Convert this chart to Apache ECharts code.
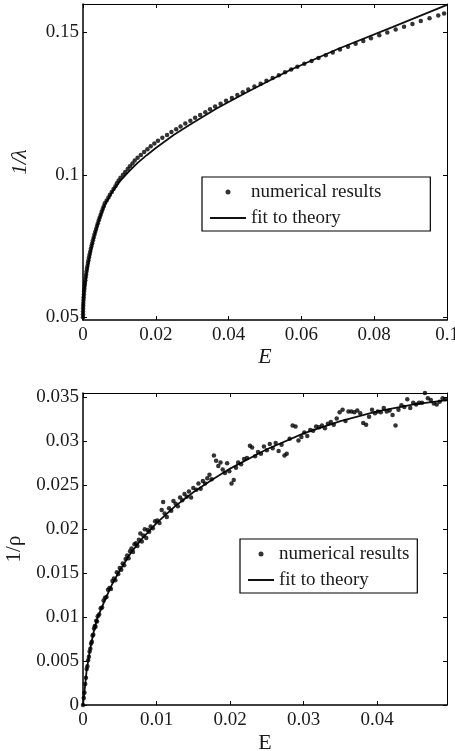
<!DOCTYPE html>
<html><head><meta charset="utf-8">
<script src="https://cdn.jsdelivr.net/npm/echarts@6/dist/echarts.min.js"></script>
<style>html,body{margin:0;padding:0;background:#fff}#c{width:455px;height:751px}</style>
</head><body><div id="c"></div>
<script>
// ---- data ----
const seriesNames = ['numerical results', 'fit to theory'];
const topXTicks = [0, 0.02, 0.04, 0.06, 0.08, 0.1];
const topYTicks = [0.05, 0.1, 0.15];
const botXTicks = [0, 0.01, 0.02, 0.03, 0.04];
const botYTicks = [0, 0.005, 0.01, 0.015, 0.02, 0.025, 0.03, 0.035];

// top panel: numerical results [E, 1/lambda]
const topDots = [[0,0.050],[0.000004,0.051],[0.000015,0.052],[0.000034,0.053],[0.00006,0.054],[0.000094,0.055],[0.000135,0.056],[0.000184,0.057],[0.00024,0.058],[0.000304,0.059],[0.000375,0.060],[0.000454,0.061],[0.00054,0.062],[0.000634,0.063],[0.000735,0.064],[0.000844,0.065],[0.00096,0.066],[0.001084,0.067],[0.001215,0.068],[0.001354,0.069],[0.0015,0.070],[0.001654,0.071],[0.001815,0.072],[0.001984,0.073],[0.00216,0.074],[0.002344,0.075],[0.002535,0.076],[0.002734,0.077],[0.00294,0.078],[0.003154,0.079],[0.003375,0.080],[0.003604,0.081],[0.00384,0.082],[0.004084,0.083],[0.004335,0.084],[0.004594,0.085],[0.00486,0.086],[0.005134,0.087],[0.005415,0.088],[0.005704,0.089],[0.006,0.090],
[0.0065,0.091],[0.0070,0.092],[0.0074,0.093],[0.0079,0.094],[0.0084,0.095],[0.0089,0.096],[0.0093,0.097],[0.0098,0.098],[0.0103,0.099],[0.0110,0.100],[0.0116,0.101],[0.0123,0.102],[0.0129,0.103],[0.0136,0.104],[0.0142,0.105],[0.0150,0.106],[0.0159,0.107],[0.0168,0.108],[0.0177,0.109],[0.0186,0.110],[0.0196,0.111],[0.0206,0.112],[0.0218,0.113],[0.0231,0.114],[0.0243,0.115],[0.0256,0.116],[0.0268,0.117],[0.0281,0.118],[0.0295,0.119],[0.0308,0.120],[0.0322,0.121],[0.0336,0.122],[0.0349,0.123],[0.0363,0.124],[0.0378,0.125],[0.0393,0.126],[0.0409,0.127],[0.0424,0.128],[0.0439,0.129],[0.0454,0.130],[0.0471,0.131],[0.0488,0.132],[0.0504,0.133],[0.0521,0.134],[0.0538,0.135],[0.0555,0.136],[0.0572,0.137],[0.0589,0.138],[0.0608,0.139],[0.0628,0.140],[0.0647,0.141],[0.0667,0.142],[0.0686,0.143],[0.0706,0.144],[0.0728,0.145],[0.0749,0.146],[0.0770,0.147],[0.0791,0.148],[0.0814,0.149],[0.0836,0.150],[0.0859,0.151],[0.0882,0.152],[0.0905,0.153],[0.0928,0.154],[0.0952,0.155],[0.0976,0.156],[0.0992,0.1567]];

// top panel: fit to theory [E, 1/lambda]
const topFit = [[0,0.050],[0.0002,0.0565],[0.0005,0.0605],[0.001,0.0655],[0.002,0.0725],[0.003,0.078],[0.0045,0.0845],[0.006,0.0895],[0.008,0.0940],[0.010,0.0975],[0.0125,0.1010],[0.015,0.1042],[0.0175,0.1069],[0.020,0.1094],[0.025,0.1141],[0.030,0.1181],[0.0367,0.1233],[0.045,0.1290],[0.0569,0.1368],[0.070,0.1442],[0.085,0.1519],[0.100,0.1597]];

// bottom panel: numerical results [E, 1/rho]
const botDots = [[0,0],[0.0001,0.0008],[0.0002,0.0014],[0.0003,0.0024],[0.0004,0.0031],[0.0005,0.0041],[0.0006,0.0044],[0.0007,0.0051],[0.0008,0.0055],[0.0009,0.0061],[0.0010,0.0064],[0.0011,0.0070],[0.0012,0.0072],[0.0013,0.0079],[0.0014,0.0080],[0.0015,0.0087],[0.0016,0.0090],[0.0017,0.0089],[0.0018,0.0096],[0.0019,0.0095],[0.0020,0.0101],[0.0022,0.0103],[0.0024,0.0110],[0.0026,0.0111],[0.0028,0.0119],[0.0030,0.0122],[0.0032,0.0123],[0.0034,0.0131],[0.0036,0.0133],[0.0038,0.0132],[0.0040,0.0141],[0.0042,0.0144],[0.0044,0.0142],[0.0046,0.0151],[0.0048,0.0149],[0.0050,0.0156],[0.0052,0.0154],[0.0054,0.0161],[0.0056,0.0159],[0.0058,0.0166],[0.0060,0.0170],[0.0062,0.0167],[0.0064,0.0175],[0.0066,0.0178],[0.0068,0.0174],[0.0070,0.0183],[0.0072,0.0184],[0.0074,0.0181],[0.0076,0.0188],[0.0078,0.0195],[0.0080,0.0186],[0.0082,0.0193],[0.0084,0.0200],[0.0086,0.0190],[0.0088,0.0199],[0.0090,0.0197],[0.0092,0.0203],[0.0095,0.0201],[0.0098,0.0209],[0.0101,0.0210],[0.0104,0.0207],[0.0107,0.0222],[0.0109,0.0231],[0.0111,0.0218],[0.0114,0.0214],[0.0117,0.0224],[0.0120,0.0221],[0.0123,0.0232],[0.0126,0.0229],[0.0129,0.0226],[0.0132,0.0236],[0.0135,0.0233],[0.0138,0.0240],[0.0141,0.0237],[0.0144,0.0243],[0.0147,0.0236],[0.0150,0.0247],[0.0154,0.0245],[0.0157,0.0252],[0.0160,0.0246],[0.0163,0.0255],[0.0166,0.0252],[0.0169,0.0258],[0.0172,0.0262],[0.0175,0.0257],[0.0178,0.0284],[0.0181,0.0278],[0.0184,0.0272],[0.0187,0.0276],[0.0190,0.0268],[0.0193,0.0264],[0.0196,0.0275],[0.0199,0.0266],[0.0202,0.0252],[0.0205,0.0256],[0.0208,0.0270],[0.0211,0.0276],[0.0215,0.0274],[0.0219,0.0280],[0.0223,0.0281],[0.0227,0.0295],[0.0230,0.0293],[0.0234,0.0283],[0.0238,0.0288],[0.0242,0.0286],[0.0246,0.0294],[0.0250,0.0290],[0.0254,0.0297],[0.0258,0.0292],[0.0262,0.0298],[0.0266,0.0289],[0.0270,0.0296],[0.0274,0.0284],[0.0277,0.0286],[0.0281,0.0303],[0.0285,0.0318],[0.0289,0.0317],[0.0293,0.0301],[0.0297,0.0305],[0.0301,0.0310],[0.0305,0.0306],[0.0309,0.0313],[0.0313,0.0312],[0.0317,0.0317],[0.0321,0.0316],[0.0325,0.0318],[0.0329,0.0315],[0.0333,0.0320],[0.0337,0.0322],[0.0341,0.0319],[0.0345,0.0326],[0.0349,0.0333],[0.0353,0.0336],[0.0357,0.0323],[0.0361,0.0334],[0.0365,0.0334],[0.0369,0.0333],[0.0373,0.0335],[0.0377,0.0332],[0.0381,0.0321],[0.0385,0.0319],[0.0389,0.0328],[0.0393,0.0336],[0.0397,0.0332],[0.0401,0.0334],[0.0405,0.0333],[0.0409,0.0338],[0.0413,0.0334],[0.0417,0.0335],[0.0421,0.0330],[0.0425,0.0318],[0.0429,0.0336],[0.0433,0.0341],[0.0437,0.0339],[0.0441,0.0348],[0.0445,0.0338],[0.0449,0.0344],[0.0453,0.0342],[0.0457,0.0344],[0.0461,0.0344],[0.0465,0.0355],[0.0469,0.0349],[0.0473,0.0347],[0.0477,0.0343],[0.0481,0.0342],[0.0485,0.0345],[0.0489,0.0349],[0.0493,0.0348]];

// bottom panel: fit to theory [E, 1/rho]
const botFit = [[0,0],[0.0002,0.0015],[0.0005,0.0040],[0.001,0.0065],[0.0015,0.0085],[0.002,0.0100],[0.003,0.0120],[0.004,0.0138],[0.005,0.0153],[0.0065,0.0173],[0.008,0.0189],[0.010,0.0207],[0.0125,0.0226],[0.015,0.0242],[0.0175,0.0256],[0.020,0.0269],[0.025,0.0291],[0.030,0.0309],[0.035,0.0323],[0.040,0.0334],[0.045,0.0342],[0.0495,0.0347]];

// ---- chart ----
const FONT = "'Liberation Serif','Times New Roman',serif";
const TXT = '#1a1a1a';
const chart = echarts.init(document.getElementById('c'), null, {renderer: 'canvas'});

function mainX(gi, min, max, ticks, nameStyle, nameGap) {
  return {gridIndex: gi, type: 'value', min: min, max: max, position: 'bottom',
    name: 'E', nameLocation: 'middle', nameGap: nameGap,
    nameTextStyle: Object.assign({fontFamily: FONT, fontSize: 22, color: TXT}, nameStyle),
    axisLine: {show: true, onZero: false, lineStyle: {color: '#000', width: 1.5}},
    axisTick: {show: true, inside: true, length: 4, customValues: ticks, lineStyle: {color: '#000', width: 1}},
    axisLabel: {show: true, margin: 6, customValues: ticks, fontFamily: FONT, fontSize: 19, color: TXT,
      formatter: v => String(+(+v).toFixed(4))},
    splitLine: {show: false}};
}
function topX(gi, min, max, ticks) {
  return {gridIndex: gi, type: 'value', min: min, max: max, position: 'top',
    axisLine: {show: true, onZero: false, lineStyle: {color: '#000', width: 1}},
    axisTick: {show: true, inside: true, length: 4, customValues: ticks, lineStyle: {color: '#000', width: 1}},
    axisLabel: {show: false}, splitLine: {show: false}};
}
function leftY(gi, min, max, ticks, name, nameStyle) {
  return {gridIndex: gi, type: 'value', min: min, max: max, position: 'left',
    name: name, nameLocation: 'middle', nameGap: 52,
    nameTextStyle: Object.assign({fontFamily: FONT, fontSize: 21, color: TXT}, nameStyle),
    axisLine: {show: true, onZero: false, lineStyle: {color: '#000', width: 1.5}},
    axisTick: {show: true, inside: true, length: 4, customValues: ticks, lineStyle: {color: '#000'}},
    axisLabel: {show: true, margin: 4, customValues: ticks, fontFamily: FONT, fontSize: 19, color: TXT,
      formatter: v => String(+(+v).toFixed(4))},
    splitLine: {show: false}};
}
function rightY(gi, min, max, ticks) {
  return {gridIndex: gi, type: 'value', min: min, max: max, position: 'right',
    axisLine: {show: true, onZero: false, lineStyle: {color: '#000', width: 1}},
    axisTick: {show: true, inside: true, length: 4, customValues: ticks, lineStyle: {color: '#000'}},
    axisLabel: {show: false}, splitLine: {show: false}};
}
function legendAt(left, top, iconW, padRight) {
  return {left: left, top: top, orient: 'vertical', selectedMode: false,
    data: [{name: seriesNames[0], icon: 'circle'}, {name: seriesNames[1], itemStyle: {opacity: 0}}],
    itemWidth: iconW, itemHeight: 5, itemGap: 6, padding: [5, padRight, 3, 7],
    borderColor: '#000', borderWidth: 1.2, backgroundColor: '#fff',
    textStyle: {fontFamily: FONT, fontSize: 19, color: TXT, lineHeight: 20}};
}

const option = {
  backgroundColor: '#fff',
  animation: false,
  grid: [
    {left: 83, top: 4, width: 364, height: 316, show: false, outerBoundsMode: 'none', containLabel: false},
    {left: 83, top: 393, width: 364, height: 312, show: false, outerBoundsMode: 'none', containLabel: false}
  ],
  xAxis: [
    mainX(0, 0, 0.1, topXTicks, {fontStyle: 'italic'}, 22),
    topX(0, 0, 0.1, topXTicks),
    mainX(1, 0, 0.0495, botXTicks, {}, 27),
    topX(1, 0, 0.0495, botXTicks)
  ],
  yAxis: [
    leftY(0, 0.049, 0.16, topYTicks, '1/λ', {fontStyle: 'italic'}),
    rightY(0, 0.049, 0.16, topYTicks),
    leftY(1, 0, 0.0355, botYTicks, '1/ρ', {}),
    rightY(1, 0, 0.0355, botYTicks)
  ],
  legend: [
    legendAt(202, 177, 36, 49),
    legendAt(240, 539, 26, 8)
  ],
  series: [
    {name: seriesNames[0], type: 'scatter', xAxisIndex: 0, yAxisIndex: 0, data: topDots,
      symbol: 'circle', symbolSize: 4.5, itemStyle: {color: '#000'}, z: 3},
    {name: seriesNames[1], type: 'line', xAxisIndex: 0, yAxisIndex: 0, data: topFit,
      symbol: 'none', smooth: false, lineStyle: {color: '#111', width: 1.8}, itemStyle: {color: '#111'}, z: 2},
    {name: seriesNames[0], type: 'scatter', xAxisIndex: 2, yAxisIndex: 2, data: botDots,
      symbol: 'circle', symbolSize: 4.5, itemStyle: {color: '#000'}, z: 3},
    {name: seriesNames[1], type: 'line', xAxisIndex: 2, yAxisIndex: 2, data: botFit,
      symbol: 'none', smooth: false, lineStyle: {color: '#111', width: 1.8}, itemStyle: {color: '#111'}, z: 2}
  ]
};
chart.setOption(option);
</script>
</body></html>
